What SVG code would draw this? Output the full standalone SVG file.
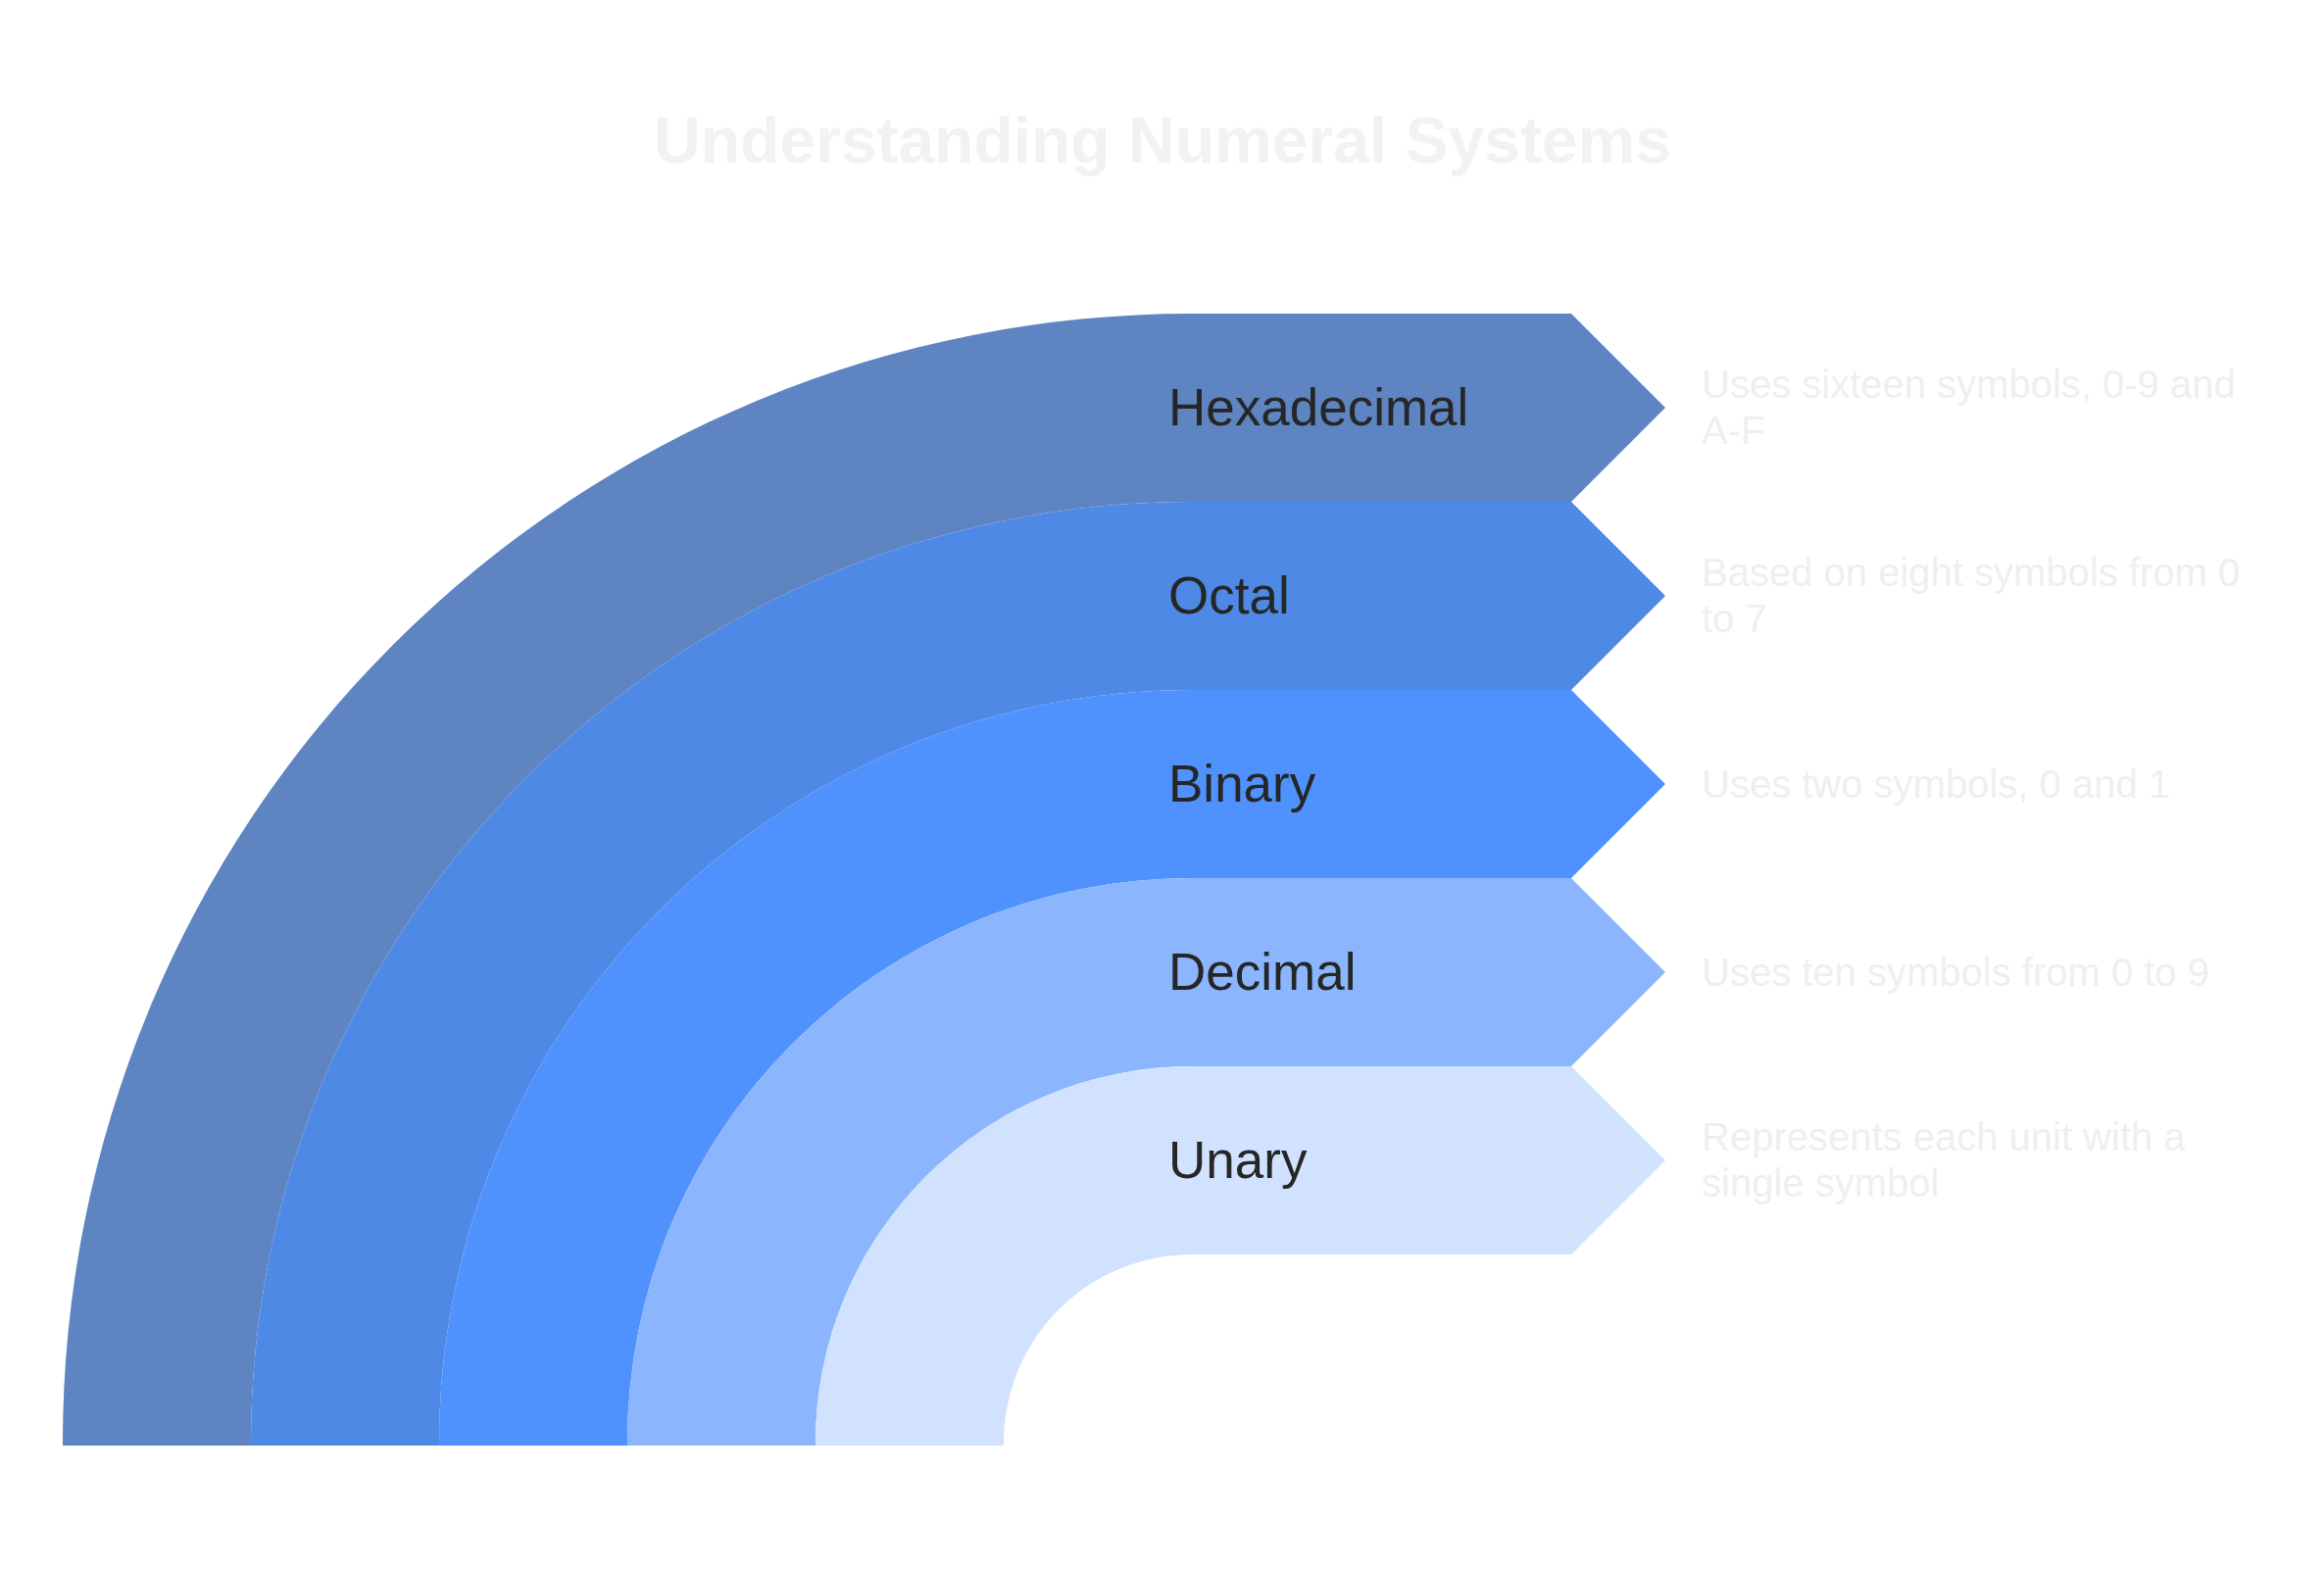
<svg xmlns="http://www.w3.org/2000/svg" width="2371" height="1603" viewBox="0 0 2371 1603">
<style>
.title{font-family:"Liberation Sans",Arial,sans-serif;font-weight:bold;font-size:66px;fill:#f2f2f2}
.lbl{font-family:"Liberation Sans",Arial,sans-serif;font-size:53px;fill:#262626}
.desc{font-family:"Liberation Sans",Arial,sans-serif;font-size:40px;fill:#efefef}
</style>
<rect width="2371" height="1603" fill="#ffffff"/>
<text class="title" x="1186" y="166" text-anchor="middle">Understanding Numeral Systems</text>
<g id="connectors"></g>
<g id="hexadecimal">
<path d="M64,1475 L64,1472 A1152,1152 0 0 1 1216,320 L1603,320 L1699,416 L1603,512 L1216,512 A960,960 0 0 0 256,1472 L256,1475 Z" fill="#5e84c1"/>
<text class="lbl" x="1192" y="434">Hexadecimal</text>
<text class="desc" x="1736" y="406">Uses sixteen symbols, 0-9 and</text>
<text class="desc" x="1736" y="453">A-F</text>
</g>
<g id="octal">
<path d="M256,1475 L256,1472 A960,960 0 0 1 1216,512 L1603,512 L1699,608 L1603,704 L1216,704 A768,768 0 0 0 448,1472 L448,1475 Z" fill="#4e89e6"/>
<text class="lbl" x="1192" y="626">Octal</text>
<text class="desc" x="1736" y="598">Based on eight symbols from 0</text>
<text class="desc" x="1736" y="645">to 7</text>
</g>
<g id="binary">
<path d="M448,1475 L448,1472 A768,768 0 0 1 1216,704 L1603,704 L1699,800 L1603,896 L1216,896 A576,576 0 0 0 640,1472 L640,1475 Z" fill="#4f92fe"/>
<text class="lbl" x="1192" y="818">Binary</text>
<text class="desc" x="1736" y="814">Uses two symbols, 0 and 1</text>
</g>
<g id="decimal">
<path d="M640,1475 L640,1472 A576,576 0 0 1 1216,896 L1603,896 L1699,992 L1603,1088 L1216,1088 A384,384 0 0 0 832,1472 L832,1475 Z" fill="#8bb6fe"/>
<text class="lbl" x="1192" y="1010">Decimal</text>
<text class="desc" x="1736" y="1006">Uses ten symbols from 0 to 9</text>
</g>
<g id="unary">
<path d="M832,1475 L832,1472 A384,384 0 0 1 1216,1088 L1603,1088 L1699,1184 L1603,1280 L1216,1280 A192,192 0 0 0 1024,1472 L1024,1475 Z" fill="#d1e2fe"/>
<text class="lbl" x="1192" y="1202">Unary</text>
<text class="desc" x="1736" y="1174">Represents each unit with a</text>
<text class="desc" x="1736" y="1221">single symbol</text>
</g>
</svg>
